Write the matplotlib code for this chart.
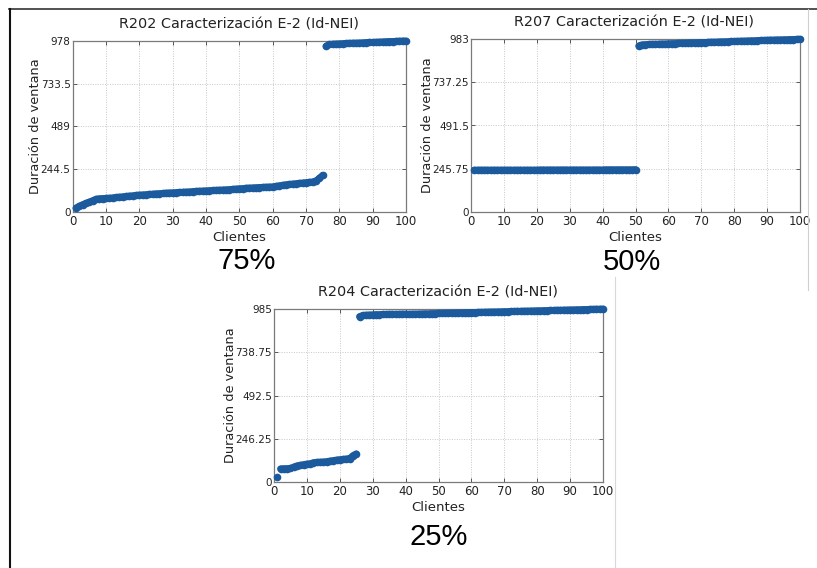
import matplotlib
matplotlib.use("Agg")
import matplotlib.pyplot as plt
from matplotlib.lines import Line2D

# clients (x) 1..100
clientes = list(range(1, 101))

# R202, 75 % lower windows
r202 = [23, 33, 42, 50, 57, 65, 73, 76, 77, 78,
        79, 81, 83, 85, 87, 89, 91, 93, 95, 97,
        98, 99, 101, 102, 104, 105, 106, 108, 109, 110,
        111, 112, 113, 114, 115, 117, 118, 119, 120, 121,
        122, 123, 124, 125, 126, 127, 128, 130, 131, 133,
        134, 136, 137, 138, 139, 140, 141, 142, 143, 144,
        147, 150, 153, 156, 158, 160, 162, 164, 166, 168,
        170, 172, 178, 192, 210,
        948, 958, 960, 961, 962, 963, 964, 965, 966, 966,
        967, 968, 969, 970, 970, 971, 972, 973, 974, 975,
        975, 976, 977, 978, 978]

# R207, 50 %
r207 = [238, 238, 238, 238, 238, 238, 238, 238, 238, 238,
        238, 238, 238, 238, 238, 238, 238, 238, 238, 238,
        239, 239, 239, 239, 239, 239, 239, 239, 239, 239,
        239, 239, 239, 239, 239, 239, 239, 239, 239, 239,
        240, 240, 240, 240, 240, 240, 240, 240, 240, 241,
        944, 950, 951, 952, 953, 953, 954, 955, 955, 956,
        957, 957, 958, 959, 959, 960, 961, 961, 962, 963,
        963, 964, 965, 965, 966, 967, 967, 968, 969, 969,
        970, 971, 971, 972, 973, 973, 974, 975, 975, 976,
        977, 977, 978, 978, 979, 979, 980, 980, 981, 982]

# R204, 25 %
r204 = [26, 75, 76, 76, 77, 85, 92, 95, 99, 102,
        104, 110, 112, 113, 114, 116, 119, 122, 125, 127,
        129, 131, 133, 150, 160,
        942, 948, 950, 951, 952, 953, 953, 954, 954, 955,
        955, 955, 955, 956, 956,
        955, 956, 956, 957, 957, 958, 958, 959, 959, 960,
        960, 961, 961, 962, 962, 963, 963, 964, 964, 965,
        965, 966, 966, 967, 967, 968, 968, 969, 969, 970,
        970, 971, 971, 972, 972, 973, 973, 974, 974, 975,
        975, 976, 976, 977, 977, 978, 978, 979, 979, 980,
        980, 981, 981, 982, 982, 983, 983, 984, 984, 985]

titulos = ["R202 Caracterización E-2 (Id-NEI)",
           "R207 Caracterización E-2 (Id-NEI)",
           "R204 Caracterización E-2 (Id-NEI)"]
ymaxs = [978, 983, 985]
ytick_labels = [["0", "244.5", "489", "733.5", "978"],
                ["0", "245.75", "491.5", "737.25", "983"],
                ["0", "246.25", "492.5", "738.75", "985"]]
porcentajes = ["75%", "50%", "25%"]

W, H = 817, 568
fig = plt.figure(figsize=(W / 100, H / 100), dpi=100)
fig.patch.set_facecolor("white")

def px_rect(left, top, right, bottom):
    return [left / W, 1 - bottom / H, (right - left) / W, (bottom - top) / H]

# axes boxes in pixels: left, top, right, bottom
boxes = [(72.7, 41, 406, 212), (471, 39, 800, 212), (274, 309, 603, 482)]
# title centres and percent label centres (pixels)
title_pos = [(239, 25), (634, 23), (438, 293)]
pct_pos = [(247, 261), (632, 262), (439, 537)]

azul = "#1b5a9c"
series = [r202, r207, r204]

for i in range(3):
    ax = fig.add_axes(px_rect(*boxes[i]))
    ys = series[i]
    # split at the jumps so the thick line doesn't bridge them
    cuts = [0] + [k for k in range(1, len(ys)) if ys[k] - ys[k - 1] > 40] + [len(ys)]
    for a, b in zip(cuts[:-1], cuts[1:]):
        ax.plot(clientes[a:b], ys[a:b], "-o", color=azul, markersize=5.5,
                linewidth=5, markeredgewidth=0, solid_capstyle="round",
                clip_on=False, zorder=3)
    ax.set_xlim(0, 100)
    ax.set_ylim(0, ymaxs[i])
    ax.set_xticks(range(0, 101, 10))
    ax.set_yticks([ymaxs[i] * k / 4 for k in range(5)])
    ax.set_yticklabels(ytick_labels[i], family=["Liberation Sans Narrow", "DejaVu Sans"])
    ax.tick_params(axis="x", labelsize=8.5, colors="#222222", pad=2)
    ax.tick_params(axis="y", labelsize=7.5, colors="#222222", pad=1.5)
    ax.tick_params(direction="in", length=3, width=0.7, top=True, right=True,
                   color="#555555")
    ax.grid(True, linestyle=(0, (1, 1.5)), color="#c8c8c8", linewidth=0.7)
    for s in ax.spines.values():
        s.set_color("#7a7a7a")
        s.set_linewidth(0.9)
    ax.set_xlabel("Clientes", fontsize=9.5, labelpad=2, color="#222222")
    ax.set_ylabel("Duración de ventana", fontsize=9.3, labelpad=-1, color="#222222")
    tx, ty = title_pos[i]
    fig.text(tx / W, 1 - ty / H, titulos[i], ha="center", va="center",
             fontsize=10.4, color="#222222")
    px, py = pct_pos[i]
    fig.text(px / W, 1 - py / H, porcentajes[i], ha="center", va="center",
             fontsize=21, family="Liberation Sans", color="black")

# page frame lines
def hline(y, x0, x1, c, lw):
    fig.add_artist(Line2D([x0 / W, x1 / W], [1 - y / H, 1 - y / H], color=c, lw=lw))

def vline(x, y0, y1, c, lw):
    fig.add_artist(Line2D([x / W, x / W], [1 - y0 / H, 1 - y1 / H], color=c, lw=lw))

hline(9, 9, 817, "#333333", 1.2)
vline(9.5, 9, 568, "#111111", 1.5)
vline(808, 9, 290, "#d0d0d0", 0.8)
vline(615, 277, 568, "#d8d8d8", 0.8)

fig.savefig("out.png", dpi=100)
